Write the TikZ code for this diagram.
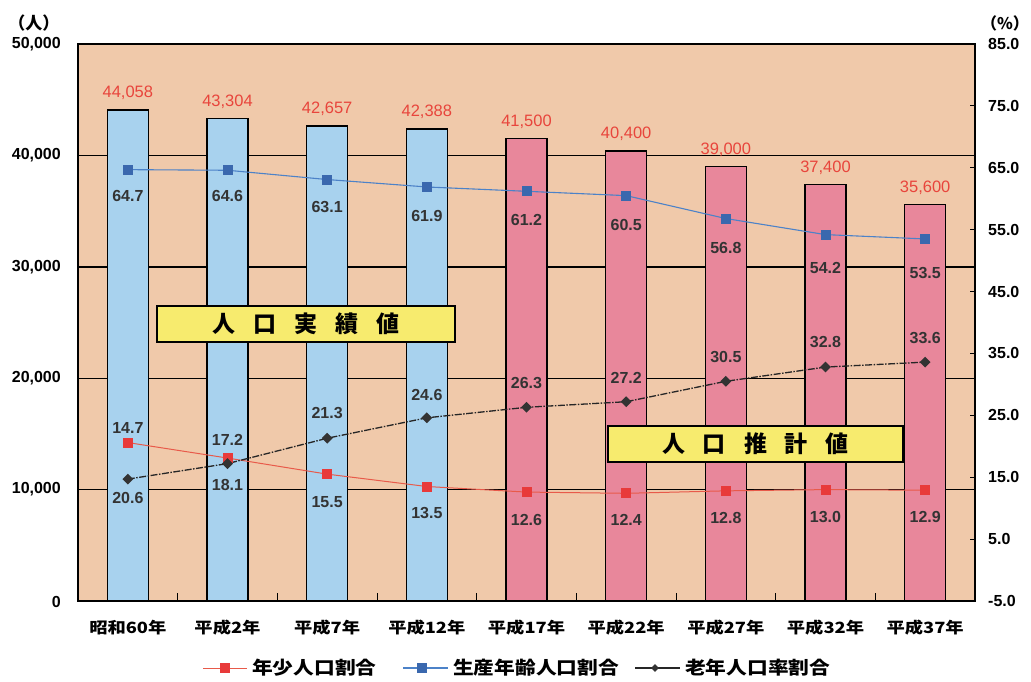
\documentclass[tikz,border=0pt]{standalone}
\usepackage{fontspec}
\setmainfont{Liberation Sans}
\newfontfamily\jp{Noto Sans CJK JP}
\usetikzlibrary{shapes.geometric}
\definecolor{plotbg}{HTML}{F0C9AA}
\definecolor{barblue}{HTML}{A8D2EE}
\definecolor{barpink}{HTML}{E8879B}
\definecolor{boxyellow}{HTML}{F7EB6E}
\definecolor{redtext}{HTML}{E8453C}
\definecolor{redline}{HTML}{E85A4A}
\definecolor{redmark}{HTML}{E83A3A}
\definecolor{blueline}{HTML}{4C82C8}
\definecolor{bluemark}{HTML}{3A68AE}
\definecolor{darkmark}{HTML}{333333}
\begin{document}
\begin{tikzpicture}[x=1pt,y=-1pt,
  barframe/.style={draw=black,line width=1.4pt},
  gridline/.style={draw=black,line width=1.4pt},
  vallab/.style={font=\bfseries\fontsize{16}{16}\selectfont, text=black!80, inner sep=0pt},
  barlab/.style={font=\fontsize{16.5}{16.5}\selectfont, text=redtext, inner sep=0pt},
  axlab/.style={font=\bfseries\fontsize{16}{16}\selectfont, inner sep=0pt},
  catlab/.style={font=\jp\bfseries\fontsize{15.5}{15.5}\selectfont, xscale=1.18, inner sep=0pt},
  leglab/.style={font=\jp\bfseries\fontsize{18}{18}\selectfont, xscale=1.15, inner sep=0pt, anchor=west},
  unitlab/.style={font=\jp\bfseries\fontsize{17}{17}\selectfont, inner sep=0pt},
  boxlab/.style={draw=black, line width=1.2pt, fill=boxyellow, font=\jp\bfseries\fontsize{23}{23}\selectfont, minimum height=36pt, inner sep=0pt},
  rsq/.style={rectangle, fill=redmark, minimum size=10pt, inner sep=0pt},
  bsq/.style={rectangle, fill=bluemark, minimum size=10pt, inner sep=0pt},
  kdia/.style={diamond, fill=darkmark, minimum size=11pt, inner sep=0pt},
  rline/.style={draw=redline, line width=1pt},
  bline/.style={draw=blueline, line width=1.1pt},
  kline/.style={draw=black!85, line width=1.3pt, dash pattern=on 7pt off 1.5pt on 1.5pt off 1.5pt},
]
\useasboundingbox (0,0) rectangle (1031,681);
\fill[white] (0,0) rectangle (1031,681);
% plot area
\fill[plotbg] (78,44) rectangle (975,601);
\foreach \v in {10,20,30,40}{
  \draw[gridline] (78,{601-\v*11.14}) -- (975,{601-\v*11.14});
}
% bars
\foreach \i/\a/\b in {1/44/058,2/43/304,3/42/657,4/42/388,5/41/500,6/40/400,7/39/000,8/37/400,9/35/600}{
  \pgfmathsetmacro\xc{78+99.667*(\i-0.5)}
  \pgfmathsetmacro\yt{601-\a.\b*11.14}
  \ifnum\i<5 \def\bc{barblue}\else\def\bc{barpink}\fi
  \draw[barframe, fill=\bc] ({\xc-20.5},601) rectangle ({\xc+20.5},\yt);
  \node[barlab] (t\i) at (\xc,{\yt-17}) {\a,\b};
}
% frame and ticks
\draw[line width=1.3pt] (78,44) rectangle (975,601);
\foreach \k in {1,...,8}{
  \draw[line width=1pt] ({78+99.667*\k},601) -- ++(0,-8);
}
\foreach \v in {75,65,55,45,35,25,15,5}{
  \draw[line width=1pt] (970,{601-(\v+5)*6.1889}) -- (975,{601-(\v+5)*6.1889});
}
% axis labels
\node[unitlab] (uL) at (34,23) {（人）};
\node[unitlab, font=\jp\bfseries\fontsize{16}{16}\selectfont, anchor=east] (uR) at (1029,23) {（\%）};
\foreach \v in {10,20,30,40,50}{
  \node[axlab, anchor=east] (yl\v) at (61,{601-\v*11.14}) {\v,000};
}
\node[axlab, anchor=east] (yl0) at (61,602) {0};
\foreach \v in {85.0,75.0,65.0,55.0,45.0,35.0,25.0,15.0,5.0,-5.0}{
  \node[axlab, anchor=west] at (988,{601-(\v+5)*6.1889}) {\v};
}
% category labels
\foreach \i/\t in {1/昭和60年,2/平成2年,3/平成7年,4/平成12年,5/平成17年,6/平成22年,7/平成27年,8/平成32年,9/平成37年}{
  \node[catlab] (c\i) at ({78+99.667*(\i-0.5)},628) {\t};
}
% series coordinates and labels
\foreach \i/\bv/\rv/\kv/\by/\ry/\ky in {1/64.7/20.6/14.7/196/498/428, 2/64.6/18.1/17.2/196/485/440, 3/63.1/15.5/21.3/207/502/413, 4/61.9/13.5/24.6/216/513/395, 5/61.2/12.6/26.3/220/520/383, 6/60.5/12.4/27.2/225/520/378, 7/56.8/12.8/30.5/248/518/357, 8/54.2/13.0/32.8/268/517/342, 9/53.5/12.9/33.6/273/517/338}{
  \pgfmathsetmacro\xc{78+99.667*(\i-0.5)}
  \coordinate (b\i) at (\xc,{601-(\bv+5)*6.1889});
  \coordinate (r\i) at (\xc,{601-(\rv+5)*6.1889});
  \coordinate (k\i) at (\xc,{601-(\kv+5)*6.1889});
  \node[vallab] (bl\i) at (\xc,\by) {\bv};
  \node[vallab] (rl\i) at (\xc,\ry) {\rv};
  \node[vallab] (kl\i) at (\xc,\ky) {\kv};
}
\draw[rline] (r1)--(r2)--(r3)--(r4)--(r5)--(r6)--(r7)--(r8)--(r9);
\draw[bline] (b1)--(b2)--(b3)--(b4)--(b5)--(b6)--(b7)--(b8)--(b9);
\draw[kline] (k1)--(k2)--(k3)--(k4)--(k5)--(k6)--(k7)--(k8)--(k9);
\foreach \i in {1,...,9}{
  \node[rsq] (rm\i) at (r\i) {};
  \node[bsq] (bm\i) at (b\i) {};
  \node[kdia] (km\i) at (k\i) {};
}
% boxes
\node[boxlab, minimum width=298pt] (box1) at (306,324) {人\hskip18pt 口\hskip18pt 実\hskip18pt 績\hskip18pt 値};
\node[boxlab, minimum width=295pt] (box2) at (755.5,444) {人\hskip18pt 口\hskip18pt 推\hskip18pt 計\hskip18pt 値};
% legend
\coordinate (lr1) at (203,668); \coordinate (lr2) at (247,668);
\draw[rline] (lr1) -- (lr2);
\node[rsq] (lrm) at (225,668) {};
\node[leglab] (lrt) at (252,668) {年少人口割合};
\coordinate (lb1) at (403,668); \coordinate (lb2) at (448,668);
\draw[bline] (lb1) -- (lb2);
\node[bsq] (lbm) at (422,668) {};
\node[leglab] (lbt) at (453,668) {生産年齢人口割合};
\coordinate (lk1) at (635,668); \coordinate (lk2) at (680,668);
\draw[draw=black!85, line width=1.3pt] (lk1) -- (lk2);
\node[kdia, minimum size=8pt] (lkm) at (655,668) {};
\node[leglab] (lkt) at (685,668) {老年人口率割合};
\end{tikzpicture}
\end{document}
